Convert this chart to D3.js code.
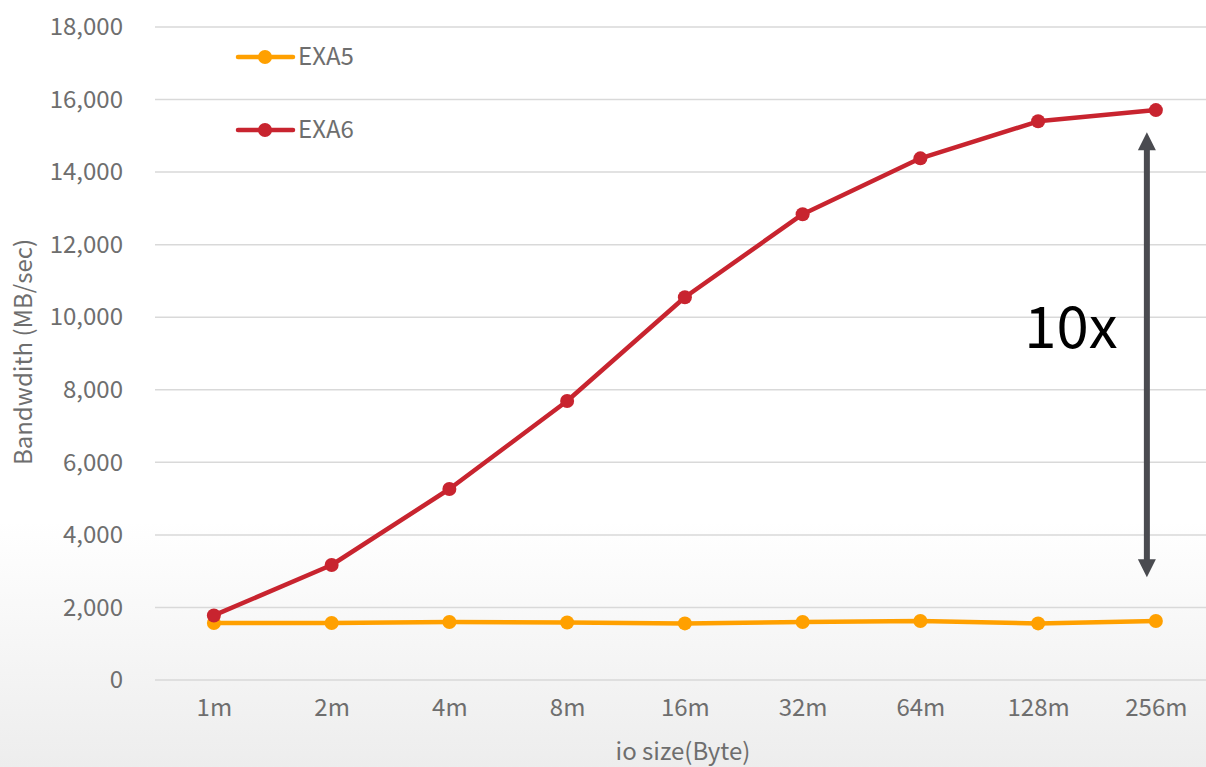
<!DOCTYPE html>
<html>
  <head>
    <title>EXA5 vs EXA6 bandwidth</title>
  </head>
  <body>
    <svg id="svg" width="1206" height="767"></svg>

    <script src="https://cdn.jsdelivr.net/npm/d3@7"></script>
    <style>
      body, html {
        margin: 0;
        padding: 0;
        background: #fff;
      }
      #svg text {
        font-family: "Noto Sans CJK JP", "Noto Sans", sans-serif;
      }
    </style>
    <script>
      // io sizes on the x axis
      const ioSizes = ["1m", "2m", "4m", "8m", "16m", "32m", "64m", "128m", "256m"];
      // bandwidth in MB/sec
      const exa5 = [1570, 1570, 1600, 1585, 1560, 1600, 1625, 1560, 1625];
      const exa6 = [1780, 3170, 5265, 7690, 10550, 12840, 14380, 15400, 15710];
      const yTicks = [0, 2000, 4000, 6000, 8000, 10000, 12000, 14000, 16000, 18000];
      const seriesNames = ["EXA5", "EXA6"];
      const seriesColors = ["#ffa000", "#c8242f"];

      const width = 1206;
      const height = 767;
      const left = 155;
      const textGrey = "#6e6e6e";

      const svg = d3.select("#svg");

      // background fades to light grey at the bottom
      const grad = svg.append("defs").append("linearGradient")
        .attr("id", "bg")
        .attr("x1", 0).attr("y1", 0)
        .attr("x2", 0).attr("y2", 1);
      grad.append("stop").attr("offset", "0%").attr("stop-color", "#ffffff");
      grad.append("stop").attr("offset", "68%").attr("stop-color", "#ffffff");
      grad.append("stop").attr("offset", "100%").attr("stop-color", "#ededed");
      svg.append("rect")
        .attr("width", width).attr("height", height)
        .attr("fill", "url(#bg)");

      const x = d3.scalePoint()
        .domain(ioSizes)
        .range([left, left + 9 * 117.75])
        .padding(0.5);

      const y = d3.scaleLinear()
        .domain([0, 18000])
        .range([680, 27]);

      // gridlines
      svg.append("g")
        .selectAll("line")
        .data(yTicks)
        .join("line")
        .attr("x1", left)
        .attr("x2", width)
        .attr("y1", d => y(d))
        .attr("y2", d => y(d))
        .attr("stroke", "#d9d9d9")
        .attr("stroke-width", 1.5);

      // y axis labels
      const leftAxis = d3.axisLeft(y).tickValues(yTicks).tickFormat(d3.format(",")).tickSize(0).tickPadding(0);
      const gy = svg.append("g")
        .attr("transform", "translate(123,0)")
        .call(leftAxis);
      gy.select(".domain").remove();
      gy.selectAll("text")
        .attr("fill", textGrey)
        .style("font-size", "24px");

      // x axis labels
      const bottomAxis = d3.axisBottom(x).tickSize(0).tickPadding(0);
      const gx = svg.append("g")
        .attr("transform", "translate(0,699)")
        .call(bottomAxis);
      gx.select(".domain").remove();
      gx.selectAll("text")
        .attr("fill", textGrey)
        .style("font-size", "24px");

      // axis titles
      svg.append("text")
        .attr("x", 683)
        .attr("y", 760)
        .attr("text-anchor", "middle")
        .attr("fill", textGrey)
        .style("font-size", "24px")
        .text("io size(Byte)");

      svg.append("text")
        .attr("transform", "translate(32,352) rotate(-90)")
        .attr("text-anchor", "middle")
        .attr("fill", textGrey)
        .style("font-size", "24px")
        .text("Bandwdith (MB/sec)");

      // lines
      const linegen = d3.line()
        .x((d, i) => x(ioSizes[i]))
        .y(d => y(d))
        .curve(d3.curveLinear);

      [exa5, exa6].forEach((vals, s) => {
        const g = svg.append("g");
        g.append("path")
          .attr("d", linegen(vals))
          .attr("fill", "none")
          .attr("stroke", seriesColors[s])
          .attr("stroke-width", 4.5)
          .attr("stroke-linejoin", "round");
        g.selectAll("circle")
          .data(vals)
          .join("circle")
          .attr("cx", (d, i) => x(ioSizes[i]))
          .attr("cy", d => y(d))
          .attr("r", 7)
          .attr("fill", seriesColors[s]);
      });

      // legend
      const legend = svg.append("g");
      seriesNames.forEach((name, s) => {
        const ly = 57 + s * 73;
        legend.append("line")
          .attr("x1", 238).attr("x2", 293)
          .attr("y1", ly).attr("y2", ly)
          .attr("stroke", seriesColors[s])
          .attr("stroke-width", 4.5)
          .attr("stroke-linecap", "round");
        legend.append("circle")
          .attr("cx", 265).attr("cy", ly).attr("r", 7)
          .attr("fill", seriesColors[s]);
        legend.append("text")
          .attr("x", 298).attr("y", ly)
          .attr("dy", "0.35em")
          .attr("fill", textGrey)
          .style("font-size", "24px")
          .text(name);
      });

      // 10x annotation arrow
      const arrowX = x("256m") - 9;
      const arrowTop = y(15100);
      const arrowBottom = y(2830);
      svg.append("line")
        .attr("x1", arrowX).attr("x2", arrowX)
        .attr("y1", arrowTop + 16).attr("y2", arrowBottom - 16)
        .attr("stroke", "#4a4b50")
        .attr("stroke-width", 6);
      svg.append("path")
        .attr("d", `M${arrowX},${arrowTop} L${arrowX - 9},${arrowTop + 18} L${arrowX + 9},${arrowTop + 18} Z`)
        .attr("fill", "#4a4b50");
      svg.append("path")
        .attr("d", `M${arrowX},${arrowBottom} L${arrowX - 9},${arrowBottom - 18} L${arrowX + 9},${arrowBottom - 18} Z`)
        .attr("fill", "#4a4b50");

      svg.append("text")
        .attr("x", 1071)
        .attr("y", 348)
        .attr("text-anchor", "middle")
        .attr("fill", "#000")
        .style("font-size", "58px")
        .text("10x");
    </script>
  </body>
</html>
